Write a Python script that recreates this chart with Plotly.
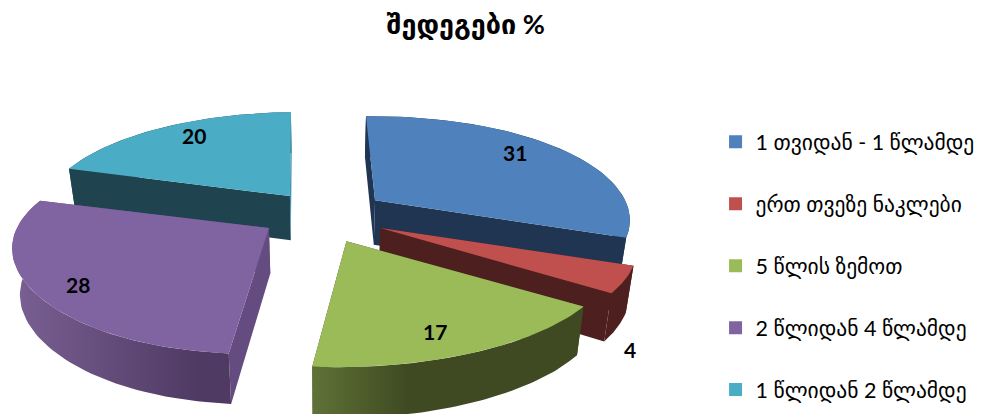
import numpy as np
import plotly.graph_objects as go

title = "შედეგები %"
categories = ["1 თვიდან - 1 წლამდე", "ერთ თვეზე ნაკლები", "5 წლის ზემოთ",
              "2 წლიდან 4 წლამდე", "1 წლიდან 2 წლამდე"]
values = [31, 4, 17, 28, 20]

top_colors = ["#4F81BD", "#C0504D", "#9BBB59", "#8064A2", "#4BACC6"]
side_colors = ["#1F3552", "#4D1F1F", "#3F4A22", "#654C80", "#1F4450"]
end_cut_colors = ["#1F3552", "#4D1F1F", "#3F4A22", "#654C80", "#3E93AA"]
wall_scales = [
    [[0, "#1F3552"], [1, "#1F3552"]],
    [[0, "#4D1F1F"], [1, "#4D1F1F"]],
    [[0, "#5F7236"], [0.35, "#3F4A22"], [1, "#3F4A22"]],
    [[0, "#7A6094"], [0.85, "#4F3A63"], [1, "#4F3A63"]],
    [[0, "#1F4450"], [0.96, "#1F4450"], [1, "#3E93AA"]],
]
draw_order = [4, 0, 1, 3, 2]

# geometry of the tilted pie, in pixels of the 988x414 picture
cx, cy = 325, 215
rx, ry = 252, 105
persp = 0.2
explode_x = [62, 62, 50, 68, 57]
explode_y = [25, 29, 29, 23, 24]
rim_dx = [-2, 0, 6, 0, 8]
start_deg = -2

# the page body keeps its 8px margin, so the figure is 8px smaller and the axes start at 8
page_margin = 8


def rim(theta, ax, ay):
    scale = 1 - persp * np.cos(theta)
    near = np.clip(-np.cos(theta), 0, 1) ** 4
    return ax + rx * np.sin(theta) * scale - 13 * near, ay - ry * np.cos(theta) * scale


def lower(x, y):
    # same points seen at the bottom of the slab
    x = np.asarray(x, dtype=float)
    y = np.asarray(y, dtype=float)
    return cx + (x - cx) * 0.975, y + 45 + 0.04 * (y - cy)


def face(fig, x, y, color, **kw):
    fig.add_trace(go.Scatter(x=list(x), y=list(y), mode="lines", fill="toself", fillcolor=color,
                             line=dict(width=0, color=color), showlegend=False, hoverinfo="skip", **kw))


fig = go.Figure()

total = sum(values)
edges = np.radians(start_deg + np.cumsum([0] + values) / total * 360)

for i in draw_order:
    a, b = edges[i], edges[i + 1]
    mid = (a + b) / 2
    ax = cx + explode_x[i] * np.sin(mid)
    ay = cy - explode_y[i] * np.cos(mid)
    th = np.linspace(a, b, 60)
    tx, ty = rim(th, ax, ay)
    tx = tx + rim_dx[i]
    bx, by = lower(tx, ty)
    lax, lay = lower(ax, ay)

    # cut faces
    face(fig, [ax, tx[0], bx[0], lax], [ay, ty[0], by[0], lay], side_colors[i])
    face(fig, [ax, tx[-1], bx[-1], lax], [ay, ty[-1], by[-1], lay], end_cut_colors[i])

    # outer wall, shaded left to right
    face(fig, np.r_[tx, bx[::-1]], np.r_[ty, by[::-1]], side_colors[i],
         fillgradient=dict(type="horizontal", start=float(min(bx.min(), tx.min())),
                           stop=float(max(bx.max(), tx.max())), colorscale=wall_scales[i]))

    # top
    face(fig, np.r_[ax, tx], np.r_[ay, ty], top_colors[i])

for i, name in enumerate(categories):
    fig.add_trace(go.Scatter(x=[None], y=[None], mode="markers", name=name, legendgroup=name,
                             marker=dict(symbol="square", size=13, color=top_colors[i])))

label_pos = [(515, 152.5), (630, 349.5), (435, 331), (78, 284.5), (194, 135.5)]
for v, (lx, ly) in zip(values, label_pos):
    fig.add_annotation(x=lx, y=ly, text=f"<b>{v}</b>", showarrow=False,
                       font=dict(family="Lato, 'DejaVu Sans'", size=21, color="black"))

fig.update_layout(
    width=988 - 8, height=414 - 8,
    margin=dict(l=0, r=0, t=0, b=0),
    paper_bgcolor="white", plot_bgcolor="white",
    xaxis=dict(range=[page_margin, 988], visible=False, fixedrange=True),
    yaxis=dict(range=[414, page_margin], visible=False, fixedrange=True),
    title=dict(text=f"<b>{title}</b>", x=0.467, xanchor="center", y=0.96, yanchor="middle",
               font=dict(family="Lato, 'DejaVu Sans'", size=27, color="black")),
    legend=dict(x=0.722, y=0.365, yanchor="middle", xanchor="left", tracegroupgap=31,
                itemwidth=30, bgcolor="rgba(0,0,0,0)",
                font=dict(family="Lato, 'DejaVu Sans'", size=21.5, color="black")),
)

fig.write_html("out.html")
